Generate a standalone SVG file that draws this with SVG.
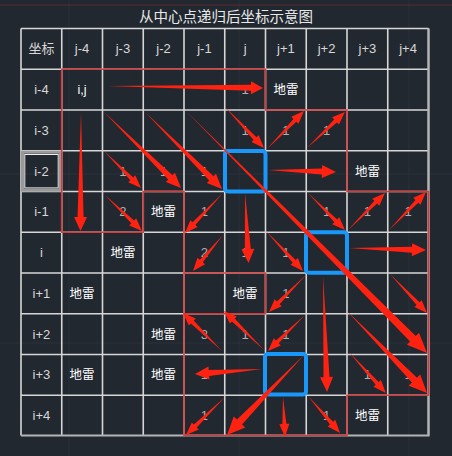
<svg xmlns="http://www.w3.org/2000/svg" width="452" height="456" viewBox="0 0 452 456">
<style>
.bgl{stroke:#2b313a;stroke-width:1;fill:none}
.gl{stroke:#d6d6d6;stroke-width:1.6;fill:none}
.hd{font-family:"Liberation Sans","Noto Sans CJK SC",sans-serif;font-size:13px;fill:#d8d8d8;text-anchor:middle}
.mine{font-family:"Liberation Sans","Noto Sans CJK SC",sans-serif;font-size:12.5px;fill:#ffffff;text-anchor:middle}
.num{font-family:"Liberation Sans",sans-serif;font-size:13px;fill:#b0b0b0;text-anchor:middle}
.reg{stroke:#d23c3c;stroke-width:1.6;fill:none}
.ctr{stroke:#1a98fa;stroke-width:4;fill:none}
.arr{fill:#ff2211}
</style>
<rect width="452" height="456" fill="#222830"/>
<g id="background-grid">
<line class="bgl" x1="69" y1="0" x2="69" y2="456"/>
<line class="bgl" x1="239" y1="0" x2="239" y2="456"/>
<line class="bgl" x1="409" y1="0" x2="409" y2="456"/>
<line class="bgl" x1="0" y1="174" x2="452" y2="174"/>
<line class="bgl" x1="0" y1="343" x2="452" y2="343"/>
<line x1="0" y1="5" x2="452" y2="5" stroke="#5a2a33" stroke-width="1"/>
</g>
<text id="title" x="226" y="22" font-family="'Liberation Sans','Noto Sans CJK SC',sans-serif" font-size="14.5" fill="#e8e8e8" text-anchor="middle">从中心点递归后坐标示意图</text>
<g id="table-grid">
<path class="gl" d="M21,28.5V435.5M61.75,28.5V435.5M102.5,28.5V435.5M143.25,28.5V435.5M184,28.5V435.5M224.75,28.5V435.5M265.5,28.5V435.5M306.25,28.5V435.5M347,28.5V435.5M387.75,28.5V435.5M428.5,28.5V435.5"/>
<path class="gl" d="M21,28.5H428.5M21,69.25H428.5M21,110H428.5M21,150.75H428.5M21,191.5H428.5M21,232.25H428.5M21,273H428.5M21,313.75H428.5M21,354.5H428.5M21,395.25H428.5"/>
<path d="M21,435.5H428.5V28.5" stroke="#b4b4b4" stroke-width="2.2" fill="none"/>
<rect x="22.5" y="152.2" width="38" height="38" stroke="#9a9a9a" stroke-width="3" fill="none"/>
<rect x="24.8" y="154.5" width="33.4" height="33.4" stroke="#eeeeee" stroke-width="1" fill="none"/>
</g>
<g id="headers">
<text class="hd" x="41.4" y="53.4">坐标</text>
<text class="hd" x="82.1" y="53.4">j-4</text>
<text class="hd" x="122.9" y="53.4">j-3</text>
<text class="hd" x="163.6" y="53.4">j-2</text>
<text class="hd" x="204.4" y="53.4">j-1</text>
<text class="hd" x="245.1" y="53.4">j</text>
<text class="hd" x="285.9" y="53.4">j+1</text>
<text class="hd" x="326.6" y="53.4">j+2</text>
<text class="hd" x="367.4" y="53.4">j+3</text>
<text class="hd" x="408.1" y="53.4">j+4</text>
<text class="hd" x="41.4" y="94.1">i-4</text>
<text class="hd" x="41.4" y="134.9">i-3</text>
<text class="hd" x="41.4" y="175.6">i-2</text>
<text class="hd" x="41.4" y="216.4">i-1</text>
<text class="hd" x="41.4" y="257.1">i</text>
<text class="hd" x="41.4" y="297.9">i+1</text>
<text class="hd" x="41.4" y="338.6">i+2</text>
<text class="hd" x="41.4" y="379.4">i+3</text>
<text class="hd" x="41.4" y="420.1">i+4</text>
</g>
<g id="cells">
<text id="start" class="mine" x="82.1" y="94">i,j</text>
<text class="mine" x="285.9" y="94">地雷</text>
<text class="mine" x="367.4" y="175.5">地雷</text>
<text class="mine" x="163.6" y="216.3">地雷</text>
<text class="mine" x="122.9" y="257">地雷</text>
<text class="mine" x="82.1" y="297.8">地雷</text>
<text class="mine" x="245.1" y="297.8">地雷</text>
<text class="mine" x="163.6" y="338.5">地雷</text>
<text class="mine" x="82.1" y="379.3">地雷</text>
<text class="mine" x="163.6" y="379.3">地雷</text>
<text class="mine" x="367.4" y="420">地雷</text>
<text class="num" x="245.1" y="94">1</text>
<text class="num" x="245.1" y="134.8">1</text>
<text class="num" x="285.9" y="134.8">1</text>
<text class="num" x="326.6" y="134.8">1</text>
<text class="num" x="122.9" y="175.5">1</text>
<text class="num" x="163.6" y="175.5">1</text>
<text class="num" x="204.4" y="175.5">1</text>
<text class="num" x="122.9" y="216.3">2</text>
<text class="num" x="204.4" y="216.3">1</text>
<text class="num" x="326.6" y="216.3">1</text>
<text class="num" x="367.4" y="216.3">1</text>
<text class="num" x="408.1" y="216.3">1</text>
<text class="num" x="204.4" y="257">2</text>
<text class="num" x="245.1" y="257">1</text>
<text class="num" x="285.9" y="257">1</text>
<text class="num" x="285.9" y="297.8">1</text>
<text class="num" x="204.4" y="338.5">3</text>
<text class="num" x="245.1" y="338.5">1</text>
<text class="num" x="285.9" y="338.5">1</text>
<text class="num" x="204.4" y="379.3">1</text>
<text class="num" x="367.4" y="379.3">1</text>
<text class="num" x="408.1" y="379.3">1</text>
<text class="num" x="204.4" y="420">1</text>
<text class="num" x="326.6" y="420">1</text>
</g>
<g id="regions">
<path class="reg" d="M61.75,232.25V69.25H265.5V110H347V191.5H428.5V395.25H347V435.5H184V191.5H143.25V232.25Z"/>
<path class="reg" d="M184,273H265.5V313.75H184"/>
</g>
<g id="centers">
<rect id="center-1" class="ctr" x="225" y="151" width="40.5" height="40.5" rx="3"/>
<rect id="center-2" class="ctr" x="306" y="232.2" width="41" height="40.5" rx="3"/>
<rect id="center-3" class="ctr" x="265" y="354" width="41" height="40.5" rx="3"/>
</g>
<g id="connectors" class="arr">
<path transform="translate(107,86) rotate(0.73)" d="M0,0L144,-3L144,-6.5L156,0L144,6.5L144,3Z"/>
<path transform="translate(81,112) rotate(90.24)" d="M0,0L105,-3L105,-6.5L119,0L105,6.5L105,3Z"/>
<path transform="translate(104,151) rotate(45)" d="M0,0L39.3,-2L39.3,-5L52.3,0L39.3,5L39.3,2Z"/>
<path transform="translate(104,112) rotate(44.6)" d="M0,0L93.2,-3L93.2,-6.5L108.2,0L93.2,6.5L93.2,3Z"/>
<path transform="translate(145,112) rotate(45)" d="M0,0L93.9,-3L93.9,-6.5L108.9,0L93.9,6.5L93.9,3Z"/>
<path transform="translate(187,112) rotate(45.1)" d="M0,0L320.1,-4L320.1,-8.5L340.1,0L320.1,8.5L320.1,4Z"/>
<path transform="translate(225,107) rotate(46.4)" d="M0,0L43.6,-2L43.6,-5L56.6,0L43.6,5L43.6,2Z"/>
<path transform="translate(267,149) rotate(-45.8)" d="M0,0L40,-2L40,-5L53,0L40,5L40,2Z"/>
<path transform="translate(307,148) rotate(-43.5)" d="M0,0L39.3,-2L39.3,-5L52.3,0L39.3,5L39.3,2Z"/>
<path transform="translate(268,170) rotate(1.7)" d="M0,0L54,-3L54,-6.5L68,0L54,6.5L54,3Z"/>
<path transform="translate(308,193) rotate(45)" d="M0,0L39.3,-2L39.3,-5L52.3,0L39.3,5L39.3,2Z"/>
<path transform="translate(348,230) rotate(-45)" d="M0,0L39.3,-2L39.3,-5L52.3,0L39.3,5L39.3,2Z"/>
<path transform="translate(389,230) rotate(-45.8)" d="M0,0L40,-2L40,-5L53,0L40,5L40,2Z"/>
<path transform="translate(349,248) rotate(1.5)" d="M0,0L63,-3L63,-6.5L77,0L63,6.5L63,3Z"/>
<path transform="translate(347,311) rotate(45.7)" d="M0,0L96.6,-3.5L96.6,-8L114.6,0L96.6,8L96.6,3.5Z"/>
<path transform="translate(390,274) rotate(46.5)" d="M0,0L40.8,-2L40.8,-5L53.8,0L40.8,5L40.8,2Z"/>
<path transform="translate(349,352) rotate(48.1)" d="M0,0L42.2,-2L42.2,-5L55.2,0L42.2,5L42.2,2Z"/>
<path transform="translate(245,193) rotate(87.1)" d="M0,0L56.1,-3L56.1,-6.5L70.1,0L56.1,6.5L56.1,3Z"/>
<path transform="translate(223,193) rotate(133.5)" d="M0,0L42.2,-2L42.2,-5L55.2,0L42.2,5L42.2,2Z"/>
<path transform="translate(223,235) rotate(129.8)" d="M0,0L33.9,-2L33.9,-5L46.9,0L33.9,5L33.9,2Z"/>
<path transform="translate(105,195) rotate(44.2)" d="M0,0L38.6,-2L38.6,-5L51.6,0L38.6,5L38.6,2Z"/>
<path transform="translate(266,231) rotate(47.2)" d="M0,0L41.5,-2L41.5,-5L54.5,0L41.5,5L41.5,2Z"/>
<path transform="translate(323,276) rotate(88)" d="M0,0L101.1,-3L101.1,-6.5L116.1,0L101.1,6.5L101.1,3Z"/>
<path transform="translate(306,275) rotate(135)" d="M0,0L39.3,-2L39.3,-5L52.3,0L39.3,5L39.3,2Z"/>
<path transform="translate(305,315) rotate(135.8)" d="M0,0L38.6,-2L38.6,-5L51.6,0L38.6,5L38.6,2Z"/>
<path transform="translate(264,350) rotate(-135.7)" d="M0,0L42.9,-2L42.9,-5L55.9,0L42.9,5L42.9,2Z"/>
<path transform="translate(222,351) rotate(-135.7)" d="M0,0L41.5,-2L41.5,-5L54.5,0L41.5,5L41.5,2Z"/>
<path transform="translate(262,369) rotate(175.7)" d="M0,0L53.2,-3L53.2,-6.5L67.2,0L53.2,6.5L53.2,3Z"/>
<path transform="translate(304,355) rotate(133.9)" d="M0,0L93,-3.5L93,-8L111,0L93,8L93,3.5Z"/>
<path transform="translate(225,397) rotate(135.7)" d="M0,0L41.5,-2L41.5,-5L54.5,0L41.5,5L41.5,2Z"/>
<path transform="translate(283,397) rotate(87.1)" d="M0,0L27,-2L27,-5L40,0L27,5L27,2Z"/>
<path transform="translate(308,396) rotate(49.1)" d="M0,0L35.9,-2L35.9,-5L48.9,0L35.9,5L35.9,2Z"/>
</g>
</svg>
